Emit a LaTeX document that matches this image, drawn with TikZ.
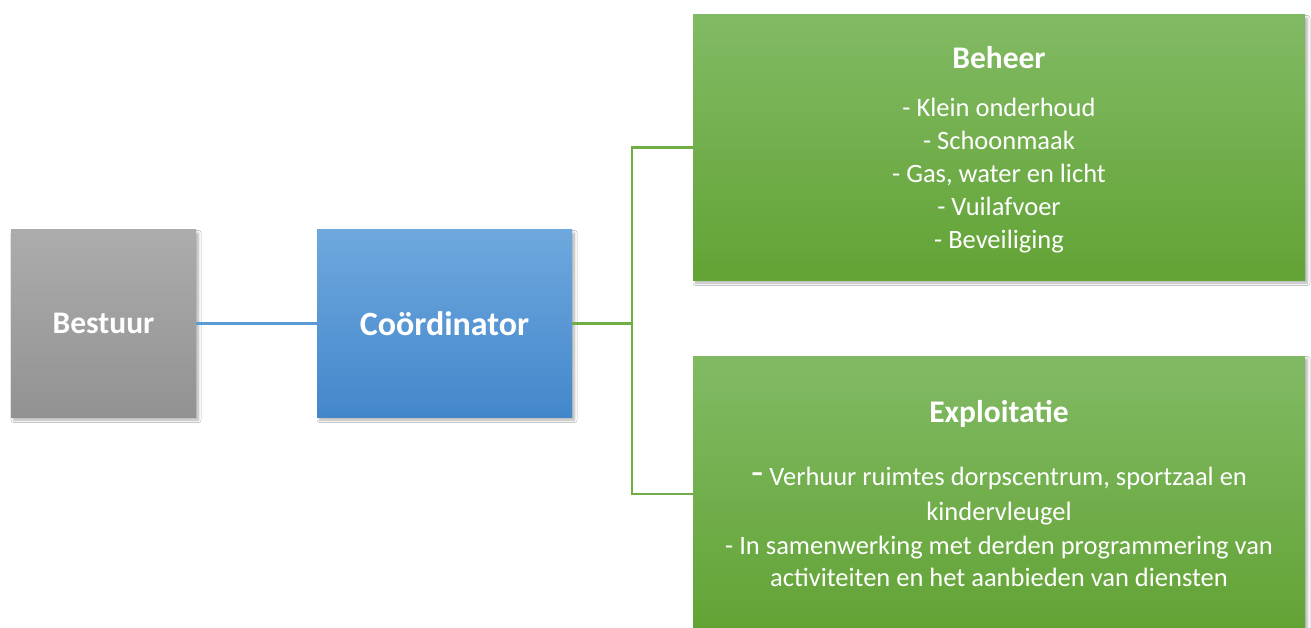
\documentclass[tikz,border=0pt]{standalone}
\usepackage{fontspec}
\setmainfont{Carlito}
\usetikzlibrary{shadows.blur}
\definecolor{grayTop}{HTML}{ACACAC}
\definecolor{grayBot}{HTML}{929292}
\definecolor{blueTop}{HTML}{6EA8DE}
\definecolor{blueBot}{HTML}{4387CB}
\definecolor{greenTop}{HTML}{82BA64}
\definecolor{greenBot}{HTML}{62A335}
\definecolor{blueLine}{HTML}{5B9BD5}
\definecolor{greenLine}{HTML}{70AD47}
\tikzset{
  box/.style={rectangle, inner sep=0pt, draw=none,
    blur shadow={shadow xshift=2.5pt, shadow yshift=-3pt, shadow blur steps=6, shadow opacity=30, shadow blur radius=2.5pt}},
  graybox/.style={box, top color=grayTop, bottom color=grayBot},
  bluebox/.style={box, top color=blueTop, bottom color=blueBot},
  greenbox/.style={box, top color=greenTop, bottom color=greenBot},
  title/.style={text=white, font=\bfseries\fontsize{31.5}{36}\selectfont, inner sep=0pt},
  body/.style={text=white, font=\fontsize{26.5}{33}\selectfont, align=center, inner sep=0pt},
  bline/.style={draw=blueLine, line width=2.2pt},
  gline/.style={draw=greenLine, line width=2.5pt},
}
\begin{document}
\begin{tikzpicture}[x=1pt,y=-1pt]
\useasboundingbox[fill=white] (0,0) rectangle (1311,628);
% boxes
\node[graybox, minimum width=185pt, minimum height=187pt] (bestuur) at (103.5,323.5) {};
\node[bluebox, minimum width=255pt, minimum height=187pt] (coord) at (444.5,323.5) {};
\node[greenbox, minimum width=612pt, minimum height=265pt] (beheer) at (999,147.5) {};
\node[greenbox, minimum width=612pt, minimum height=276pt] (expl) at (999,494) {};
% texts
\node[title] (tbestuur) at (103.5,323.5) {Bestuur};
\node[title, font=\bfseries\fontsize{34}{38}\selectfont] (tcoord) at (444.5,323.5) {Coördinator};
\node[title] (tbeheer) at (999,58) {Beheer};
\node[body, anchor=north] (bbeheer) at (999,98) {- Klein onderhoud\\- Schoonmaak\\- Gas, water en licht\\- Vuilafvoer\\- Beveiliging};
\node[title] (texpl) at (999,414) {Exploitatie};
\node[body, anchor=base] (bexpl1) at (999,485) {{\fontsize{40}{40}\selectfont -} Verhuur ruimtes dorpscentrum, sportzaal en};
\node[body, anchor=base] (bexpl2) at (999,520) {kindervleugel};
\node[body, anchor=base] (bexpl3) at (999,554) {- In samenwerking met derden programmering van};
\node[body, anchor=base] (bexpl4) at (999,586) {activiteiten en het aanbieden van diensten};
% connectors
\coordinate (j) at (632,323.5);
\draw[bline] (bestuur.east) -- (coord.west);
\draw[gline] (coord.east) -- (j);
\draw[gline] (j) |- (beheer.west);
\draw[gline] (j) |- (expl.west);
\end{tikzpicture}
\end{document}
